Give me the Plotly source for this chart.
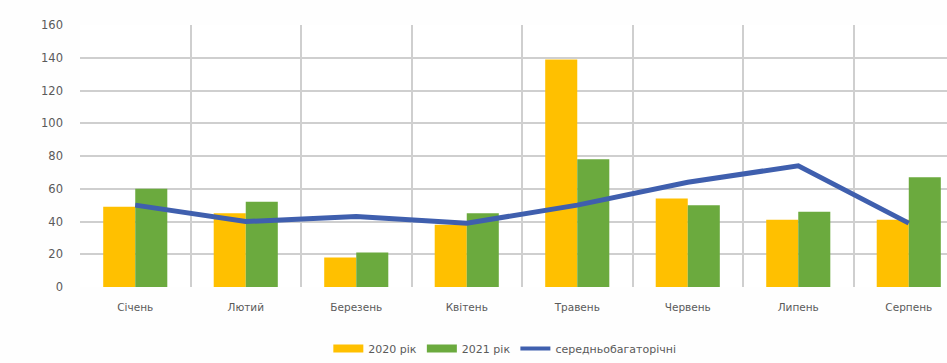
import plotly.graph_objects as go

# Monthly values
months = ["Січень", "Лютий", "Березень", "Квітень", "Травень", "Червень", "Липень", "Серпень"]
values_2020 = [49, 45, 18, 38, 139, 54, 41, 41]
values_2021 = [60, 52, 21, 45, 78, 50, 46, 67]
long_term_avg = [50, 40, 43, 39, 50, 64, 74, 39]

y_ticks = [0, 20, 40, 60, 80, 100, 120, 140, 160]

font_family = "DejaVu Sans, Noto Sans, sans-serif"
text_color = "#5a5a5a"
grid_color = "#cfcfcf"
color_2020 = "#FFC000"
color_2021 = "#6BAA3E"
color_avg = "#3F5FAE"

fig = go.Figure()
fig.add_trace(go.Bar(
    x=months, y=values_2020, name="2020 рік", showlegend=False,
    marker=dict(color=color_2020, line=dict(width=0)),
))
fig.add_trace(go.Bar(
    x=months, y=values_2021, name="2021 рік", showlegend=False,
    marker=dict(color=color_2021, line=dict(width=0)),
))
fig.add_trace(go.Scatter(
    x=months, y=long_term_avg, name="середньобагаторічні", showlegend=False,
    mode="lines", line=dict(color=color_avg, width=5),
))

# Legend entries drawn as wide strips
for name, color, width in [("2020 рік", color_2020, 8),
                           ("2021 рік", color_2021, 8),
                           ("середньобагаторічні", color_avg, 4)]:
    fig.add_trace(go.Scatter(
        x=[None], y=[None], name=name, mode="lines",
        line=dict(color=color, width=width), showlegend=True,
    ))

fig.update_layout(
    width=947, height=363,
    margin=dict(l=80, r=0, t=25, b=74),
    paper_bgcolor="#fefefe",
    plot_bgcolor="#ffffff",
    barmode="group",
    bargap=0.42,
    bargroupgap=0,
    font=dict(family=font_family, size=10, color=text_color),
    showlegend=True,
    legend=dict(
        orientation="h",
        x=0.49, xanchor="center",
        y=-0.235, yanchor="middle",
        font=dict(size=11, color=text_color),
        bgcolor="rgba(0,0,0,0)",
        itemwidth=30,
        tracegroupgap=0,
    ),
)

fig.update_xaxes(
    type="category",
    range=[-0.5, 7.346],
    tickson="boundaries",
    showgrid=True, gridcolor=grid_color, gridwidth=1.5,
    ticks="", showline=False, zeroline=False,
    ticklabelstandoff=12,
    tickfont=dict(size=10.5, color=text_color),
)
fig.update_yaxes(
    range=[0, 160],
    tickvals=y_ticks,
    showgrid=True, gridcolor=grid_color, gridwidth=1.5,
    ticks="", showline=False, zeroline=False,
    ticklabelstandoff=16,
    tickfont=dict(size=11.5, color=text_color),
)

fig.write_html("out.html")
